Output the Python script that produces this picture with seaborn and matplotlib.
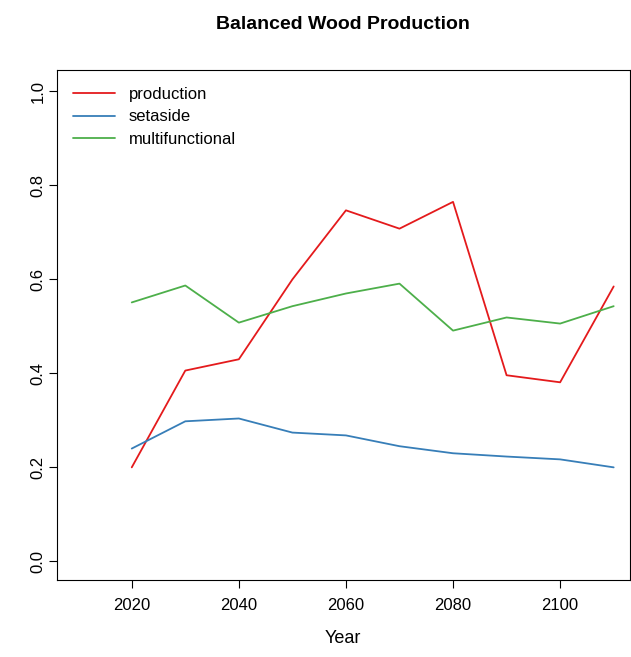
import matplotlib
matplotlib.use("Agg")
import matplotlib.pyplot as plt
import seaborn as sns
import pandas as pd

years = [2020, 2030, 2040, 2050, 2060, 2070, 2080, 2090, 2100, 2110]
production = [0.20, 0.406, 0.43, 0.60, 0.747, 0.708, 0.765, 0.396, 0.381, 0.585]
setaside = [0.24, 0.298, 0.304, 0.274, 0.268, 0.245, 0.23, 0.223, 0.217, 0.20]
multifunctional = [0.551, 0.587, 0.508, 0.543, 0.570, 0.591, 0.491, 0.519, 0.506, 0.543]

df = pd.DataFrame({"Year": years, "production": production,
                   "setaside": setaside, "multifunctional": multifunctional})
df = df.melt(id_vars="Year", var_name="type", value_name="value")

sns.set_style("white")
plt.rcParams['font.family'] = ['Liberation Sans', 'DejaVu Sans']
plt.rcParams['text.color'] = 'black'
plt.rcParams['xtick.color'] = 'black'
plt.rcParams['ytick.color'] = 'black'
plt.rcParams['axes.labelcolor'] = 'black'
fig = plt.figure(figsize=(6.31, 6.57), dpi=100)
ax = fig.add_axes([0.090, 0.117, 0.908, 0.776])
sns.lineplot(data=df, x="Year", y="value", hue="type", ax=ax,
             palette=["#E41A1C", "#377EB8", "#4DAF4A"], linewidth=1.3)
ax.set_xlim(2006, 2113)
ax.set_ylim(-0.04, 1.045)
ax.set_xticks([2020, 2040, 2060, 2080, 2100])
ax.set_yticks([0.0, 0.2, 0.4, 0.6, 0.8, 1.0])
ax.set_yticklabels(["0.0", "0.2", "0.4", "0.6", "0.8", "1.0"], rotation=90, va="center")
ax.tick_params(labelsize=12, length=6, direction="out", left=True, bottom=True)
ax.tick_params(axis="x", pad=7)
ax.tick_params(axis="y", pad=2)
ax.set_xlabel("Year", fontsize=13, labelpad=12)
ax.set_ylabel("")
for s in ax.spines.values():
    s.set_color("black")
ax.set_title("Balanced Wood Production", fontsize=14, fontweight="bold", pad=30)
ax.legend(loc="upper left", frameon=False, fontsize=12, handlelength=2.5,
          borderaxespad=0.6, labelspacing=0.45)
fig.savefig("out.png", dpi=100)
